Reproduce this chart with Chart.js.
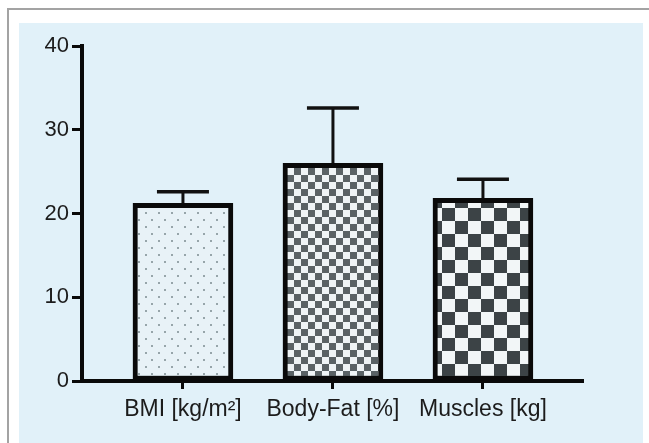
<!DOCTYPE html>
<html>
<head>
<meta charset="utf-8">
<script src="https://cdn.jsdelivr.net/npm/chart.js@4/dist/chart.umd.min.js"></script>
<style>
  html, body { margin: 0; padding: 0; background: #fff; overflow: hidden; }
  #frame { position: absolute; left: 7px; top: 8px; width: 700px; height: 500px; border: 2px solid #a3a3a3; box-sizing: border-box; }
  #panel { position: absolute; left: 19px; top: 23px; width: 624px; height: 440px; background: #e1f1f9; }
  #wrap { position: absolute; left: 0; top: 0; width: 649px; height: 443px; }
</style>
</head>
<body>
<div id="frame"></div>
<div id="panel"></div>
<div id="wrap"><canvas id="chart" width="649" height="443"></canvas></div>
<script>
// data
const categories = ['BMI [kg/m²]', 'Body-Fat [%]', 'Muscles [kg]'];
const means = [21.2, 26.0, 21.8];
const sd = [1.4, 6.6, 2.3];
const yTicks = [0, 10, 20, 30, 40];

// fill patterns for the bars
function makePattern(w, h, draw) {
    const c = document.createElement('canvas');
    c.width = w;
    c.height = h;
    draw(c.getContext('2d'), w, h);
    return c.getContext('2d').createPattern(c, 'repeat');
}

const dots = makePattern(13, 14, (g, w, h) => {
    g.fillStyle = '#e8f2f7';
    g.fillRect(0, 0, w, h);
    g.fillStyle = '#97a5aa';
    g.fillRect(2, 2, 2, 2);
    g.fillRect(8, 9, 2, 2);
});

function checker(cell, dark, light) {
    return makePattern(cell * 2, cell * 2, (g, w, h) => {
        g.fillStyle = light;
        g.fillRect(0, 0, w, h);
        g.fillStyle = dark;
        g.fillRect(0, 0, cell, cell);
        g.fillRect(cell, cell, cell, cell);
    });
}

const fills = [dots, checker(7, '#5a6265', '#eef3f5'), checker(13, '#3c4346', '#f2f6f7')];

// error bars (upper SD only) drawn through the y scale
const errorBars = {
    id: 'errorBars',
    afterDatasetsDraw(chart) {
        const meta = chart.getDatasetMeta(0);
        const y = chart.scales.y;
        const ctx = chart.ctx;
        ctx.save();
        ctx.strokeStyle = '#111';
        meta.data.forEach((bar, i) => {
            const top = y.getPixelForValue(means[i] + sd[i]);
            const half = bar.width * 0.26;
            ctx.lineWidth = 3;
            ctx.beginPath();
            ctx.moveTo(bar.x, bar.y);
            ctx.lineTo(bar.x, top);
            ctx.stroke();
            ctx.lineWidth = 3.5;
            ctx.beginPath();
            ctx.moveTo(bar.x - half, top);
            ctx.lineTo(bar.x + half, top);
            ctx.stroke();
        });
        ctx.restore();
    }
};

Chart.defaults.font.family = "'Liberation Sans', Arial, sans-serif";
Chart.defaults.color = '#1c1c1c';

new Chart(document.getElementById('chart'), {
    type: 'bar',
    data: {
        datasets: [{
            data: categories.map((c, i) => ({ x: i, y: means[i] })),
            backgroundColor: fills,
            borderColor: '#0a0a0a',
            borderWidth: 5,
            borderSkipped: false,
            barThickness: 100
        }]
    },
    options: {
        responsive: false,
        animation: false,
        layout: { padding: { top: 46, right: 66, left: 0, bottom: 0 } },
        plugins: { legend: { display: false }, tooltip: { enabled: false } },
        scales: {
            x: {
                type: 'linear',
                min: -0.673,
                max: 2.667,
                offset: false,
                afterBuildTicks: (s) => { s.ticks = categories.map((c, i) => ({ value: i })); },
                afterFit: (s) => { s.height = 62; },
                grid: { offset: false, drawOnChartArea: false, tickLength: 8, tickWidth: 3, tickColor: '#0a0a0a' },
                border: { color: '#0a0a0a', width: 4 },
                ticks: {
                    callback: (v) => categories[v],
                    font: { size: 23 },
                    padding: 7,
                    maxRotation: 0,
                    autoSkip: false
                }
            },
            y: {
                min: 0,
                max: 40,
                afterBuildTicks: (s) => { s.ticks = yTicks.map(v => ({ value: v })); },
                afterFit: (s) => { s.width = 82; },
                grid: { drawOnChartArea: false, tickLength: 10, tickWidth: 3, tickColor: '#0a0a0a' },
                border: { color: '#0a0a0a', width: 4 },
                ticks: { font: { size: 22 }, padding: 3 }
            }
        }
    },
    plugins: [errorBars]
});
</script>
</body>
</html>
